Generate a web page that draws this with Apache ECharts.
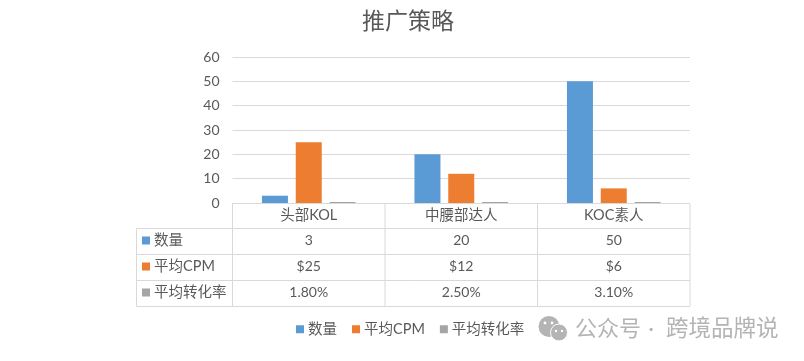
<!DOCTYPE html>
<html><head><meta charset="utf-8">
<style>html,body{margin:0;padding:0;background:#fff}#c{width:804px;height:361px}</style>
<script src="https://cdn.jsdelivr.net/npm/echarts@6/dist/echarts.min.js"></script>
</head><body><div id="c"></div>
<script>
const categories = ['头部KOL','中腰部达人','KOC素人'];
const countValues = [3,20,50];
const cpmValues = [25,12,6];
const conversionValues = [0.018,0.025,0.031];
const cpmLabels = ['$25','$12','$6'];
const conversionLabels = ['1.80%','2.50%','3.10%'];
const yTicks = [0,10,20,30,40,50,60];
const seriesNames = ['数量','平均CPM','平均转化率'];
const colors = ['#5B9BD5','#ED7D31','#A5A5A5'];

const FONT = 'Lato,"Noto Sans CJK SC","Noto Sans",sans-serif';
const TXT = '#595959', LINE = '#D9D9D9';
const chart = echarts.init(document.getElementById('c'), null, {renderer:'canvas'});
const G = {left:232.5, right:114, top:57, bottom:158};
const barStyle = (i)=>({type:'bar', name:seriesNames[i], barWidth:26, barGap:'30%', barMinHeight:1, itemStyle:{color:colors[i]}});
chart.setOption({
  animation:false,
  backgroundColor:'#fff',
  title:{text:'推广策略', left:362, top:10, textStyle:{fontFamily:FONT, fontSize:23, fontWeight:'normal', color:TXT}, padding:0, itemGap:0},
  legend:{left:291, top:317, itemWidth:8, itemHeight:8, itemGap:15, icon:'rect', selectedMode:false,
    textStyle:{fontFamily:FONT, fontSize:14.5, color:TXT, padding:[0,0,0,-1]}, data:seriesNames},
  grid:G,
  xAxis:{type:'category', data:categories, axisLine:{show:false}, axisTick:{show:false},
    axisLabel:{fontFamily:FONT, fontSize:14.5, color:TXT, margin:5}},
  yAxis:{type:'value', min:yTicks[0], max:yTicks[yTicks.length-1], interval:10,
    axisLine:{show:false}, axisTick:{show:false},
    axisLabel:{fontFamily:FONT, fontSize:14, color:TXT, margin:13},
    splitLine:{lineStyle:{color:LINE, width:1}}},
  series:[
    Object.assign(barStyle(0),{data:countValues}),
    Object.assign(barStyle(1),{data:cpmValues}),
    Object.assign(barStyle(2),{data:conversionValues})
  ]
});

// data table under the plot, placed from the axis scale
const rows = [countValues.map(String), cpmLabels, conversionLabels];
const centers = categories.map((c,i)=>chart.convertToPixel({xAxisIndex:0}, i));
const band = centers[1]-centers[0];
const colX = [centers[0]-band/2, centers[0]+band/2, centers[1]+band/2, centers[2]+band/2];
const rowY = [203.5,228.5,254.5,280.5,306.5];
const tableLeft = 136.5;
const els = [];
const line = (x1,y1,x2,y2)=>els.push({type:'line',silent:true,shape:{x1,y1,x2,y2},style:{stroke:LINE,lineWidth:1}});
rowY.forEach((y,i)=>line(i===0?colX[0]:tableLeft,y,colX[3],y));
colX.forEach(x=>line(x,rowY[0],x,rowY[4]));
line(tableLeft,rowY[1],tableLeft,rowY[4]);
rows.forEach((row,r)=>{
  const cy=(rowY[r+1]+rowY[r+2])/2-1.5;
  els.push({type:'rect',silent:true,shape:{x:142,y:cy-3.5,width:8,height:8},style:{fill:colors[r]}});
  els.push({type:'text',silent:true,x:154,y:cy,style:{text:seriesNames[r],font:'14.5px '+FONT,fill:TXT,textVerticalAlign:'middle'}});
  row.forEach((t,c)=>els.push({type:'text',silent:true,x:centers[c],y:cy+0.5,style:{text:t,font:'14px '+FONT,fill:TXT,textAlign:'center',textVerticalAlign:'middle'}}));
});
// watermark
const WM='#B4B4B4';
els.push({type:'circle',silent:true,shape:{cx:549,cy:326.5,r:10.5},style:{fill:WM}});
els.push({type:'circle',silent:true,shape:{cx:559,cy:332.5,r:8.5},style:{fill:WM,stroke:'#fff',lineWidth:1}});
[[545,323,1.4],[552,323,1.4],[556,331,1.2],[562,331,1.2]].forEach(p=>els.push({type:'circle',silent:true,shape:{cx:p[0],cy:p[1],r:p[2]},style:{fill:'#fff'}}));
els.push({type:'text',silent:true,x:575,y:329,style:{text:'公众号',font:'22px '+FONT,fill:WM,textVerticalAlign:'middle'}});
els.push({type:'text',silent:true,x:651,y:329,style:{text:'·',font:'22px '+FONT,fill:WM,textAlign:'center',textVerticalAlign:'middle'}});
els.push({type:'text',silent:true,x:666,y:329,style:{text:'跨境品牌说',font:'22.5px '+FONT,fill:WM,textVerticalAlign:'middle'}});
chart.setOption({graphic:{elements:els}});
</script></body></html>
